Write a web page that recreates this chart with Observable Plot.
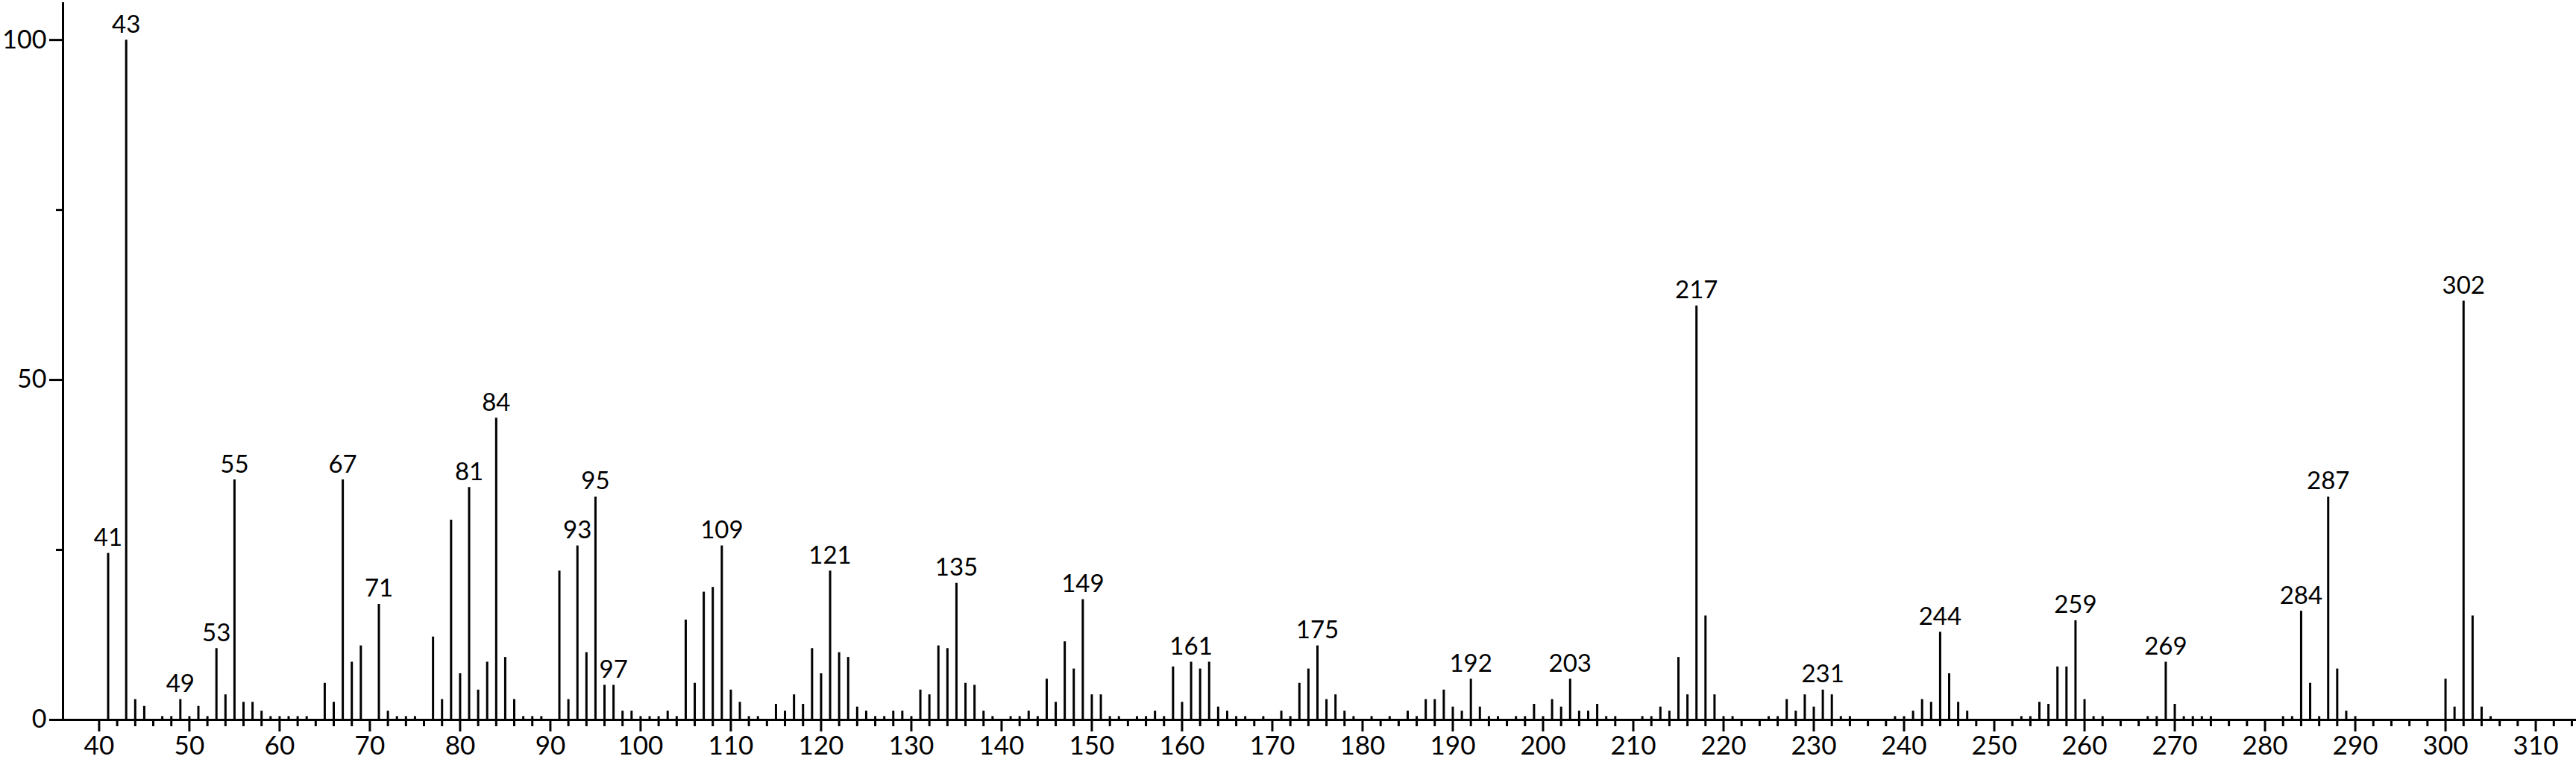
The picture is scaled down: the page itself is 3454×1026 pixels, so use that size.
<!DOCTYPE html>
<html>
<head>
<meta charset="utf-8">
<script src="https://cdn.jsdelivr.net/npm/d3@7"></script>
<script src="https://cdn.jsdelivr.net/npm/@observablehq/plot@0.6"></script>
<style>
  html, body { margin: 0; padding: 0; background: #fff; }
  #chart { width: 3454px; height: 1026px; }
</style>
</head>
<body>
<div id="chart"></div>
<script>
// m/z values
const masses = [
  41,43,44,45,47,48,49,50,51,52,53,54,55,56,57,58,59,60,61,62,63,65,66,67,68,69,71,72,73,74,75,77,78,79,
  80,81,82,83,84,85,86,87,88,89,91,92,93,94,95,96,97,98,99,100,101,102,103,104,105,106,107,108,109,110,111,112,113,
  115,116,117,118,119,120,121,122,123,124,125,126,127,128,129,130,131,132,133,134,135,136,137,138,139,141,142,143,144,
  145,146,147,148,149,150,151,152,153,155,156,157,158,159,160,161,162,163,164,165,166,167,169,171,172,173,174,175,176,
  177,178,179,181,183,185,186,187,188,189,190,191,192,193,194,195,197,198,199,200,201,202,203,204,205,206,207,208,
  211,212,213,214,215,216,217,218,219,220,221,225,226,227,228,229,230,231,232,233,234,239,240,241,242,243,244,245,246,
  247,253,254,255,256,257,258,259,260,261,262,267,268,269,270,271,272,273,274,282,283,284,285,286,287,288,289,290,
  300,301,302,303,304,305
];
// relative intensities (%)
const intensities = [
  24.5,100,3.0,2.0,0.5,0.5,3.0,0.5,2.0,0.5,10.5,3.7,35.3,2.6,2.6,1.3,0.5,0.5,0.5,0.5,0.5,5.4,2.6,35.3,8.5,10.9,17.0,1.3,0.5,0.5,0.5,12.2,3.0,29.4,
  6.8,34.2,4.4,8.5,44.4,9.2,3.0,0.5,0.5,0.5,21.9,3.0,25.6,9.9,32.8,5.1,5.1,1.3,1.3,0.5,0.5,0.5,1.3,0.5,14.7,5.4,18.8,19.5,25.6,4.4,2.6,0.5,0.5,
  2.3,1.3,3.7,2.3,10.5,6.8,21.9,9.9,9.2,1.9,1.3,0.5,0.5,1.3,1.3,0.5,4.4,3.7,10.9,10.5,20.1,5.4,5.1,1.3,0.5,0.5,0.5,1.3,0.5,
  6.0,2.6,11.5,7.5,17.7,3.7,3.7,0.5,0.5,0.5,0.5,1.3,0.5,7.8,2.6,8.5,7.5,8.5,1.9,1.3,0.5,0.5,0.5,1.3,0.5,5.4,7.5,10.9,3.0,
  3.7,1.3,0.5,0.5,0.5,1.3,0.5,3.0,3.0,4.4,1.9,1.3,6.0,1.9,0.5,0.5,0.5,0.5,2.3,0.5,3.0,1.9,6.0,1.3,1.3,2.3,0.5,0.5,
  0.5,0.5,1.9,1.3,9.2,3.7,60.9,15.3,3.7,0.5,0.5,0.5,0.5,3.0,1.3,3.7,1.9,4.4,3.7,0.5,0.5,0.5,0.5,1.3,3.0,2.6,12.9,6.8,2.6,
  1.3,0.5,0.5,2.6,2.3,7.8,7.8,14.6,3.0,0.5,0.5,0.5,0.5,8.5,2.3,0.5,0.5,0.5,0.5,0.5,0.5,16.0,5.4,0.5,32.8,7.5,1.3,0.5,
  6.0,1.9,61.6,15.3,1.9,0.5
];
// peaks that carry a label
const labeledPeaks = [41,43,49,53,55,67,71,81,84,93,95,97,109,121,135,149,161,175,192,203,217,231,244,259,269,284,287,302];
// axis ticks
const xMajorTicks = d3.range(40, 311, 10);
const xMinorTicks = d3.range(42, 315, 2).filter(v => v % 10 !== 0);
const yMajorTicks = [0, 50, 100];
const yMinorTicks = [25, 75];

const peaks = masses.map((m, i) => ({mz: m, intensity: intensities[i]}));
const labeled = peaks.filter(d => labeledPeaks.includes(d.mz));

const FONT = "Lato, 'Open Sans', sans-serif";

const chart = Plot.plot({
  width: 3454,
  height: 1026,
  marginLeft: 84,
  marginRight: 0,
  marginTop: 3,
  marginBottom: 61,
  x: {domain: [36, 314.5], label: null},
  y: {domain: [0, 105.5], label: null},
  style: {fontFamily: FONT, background: "#fff", color: "#000"},
  marks: [
    Plot.ruleX(peaks, {x: "mz", y1: 0, y2: "intensity", stroke: "#000", strokeWidth: 3}),
    Plot.text(labeled, {x: "mz", y: "intensity", text: d => String(d.mz), lineAnchor: "bottom", dy: -10, fontSize: 33, fill: "#000"}),
    Plot.axisX({ticks: xMajorTicks, label: null, tickSize: 16, tickPadding: 6, fontSize: 35, strokeWidth: 3, stroke: "#000", fill: "#000"}),
    Plot.axisX({ticks: xMinorTicks, label: null, tickSize: 9, tickFormat: () => "", strokeWidth: 3, stroke: "#000"}),
    Plot.axisY({ticks: yMajorTicks, label: null, tickSize: 18, tickPadding: 4, fontSize: 34, strokeWidth: 3, stroke: "#000", fill: "#000"}),
    Plot.axisY({ticks: yMinorTicks, label: null, tickSize: 9, tickFormat: () => "", strokeWidth: 3, stroke: "#000"}),
    Plot.ruleY([0], {stroke: "#000", strokeWidth: 3}),
    Plot.ruleX([36], {stroke: "#000", strokeWidth: 3})
  ]
});
document.getElementById("chart").appendChild(chart);
</script>
</body>
</html>
